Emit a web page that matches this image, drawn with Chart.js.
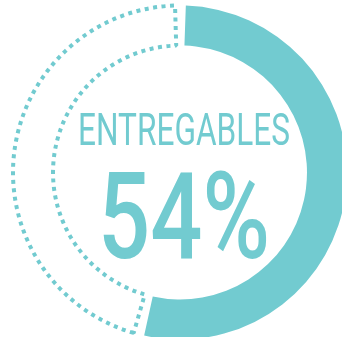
<!DOCTYPE html>
<html>
<head>
<meta charset="utf-8">
<script src="https://cdn.jsdelivr.net/npm/chart.js@4.4.1/dist/chart.umd.min.js"></script>
<style>
  html, body { margin: 0; padding: 0; background: #ffffff; overflow: hidden; }
  #wrap { position: relative; width: 342px; height: 337px; }
</style>
</head>
<body>
<div id="wrap"><canvas id="c"></canvas></div>
<script>
// ---- data ----
const categories = ['Entregables', 'Pendiente'];
const values = [54, 46];
const centerTitle = 'ENTREGABLES';
const centerValue = values[0] + '%';

const TEAL = '#72cbd0';

const centerText = {
  id: 'centerText',
  afterDraw(chart) {
    const ctx = chart.ctx;
    const meta = chart.getDatasetMeta(0);
    const arc = meta.data[0];
    const cx = arc.x + 4;
    const cy = arc.y;
    function draw(text, capH, targetW, baseline, weight) {
      ctx.save();
      let size = 100;
      ctx.font = weight + ' ' + size + 'px Roboto, "DejaVu Sans", sans-serif';
      const m = ctx.measureText('E');
      size = size * capH / m.actualBoundingBoxAscent;
      ctx.font = weight + ' ' + size + 'px Roboto, "DejaVu Sans", sans-serif';
      const w = ctx.measureText(text).width;
      const sx = targetW / w;
      ctx.fillStyle = TEAL;
      ctx.textAlign = 'center';
      ctx.textBaseline = 'alphabetic';
      ctx.translate(cx, baseline);
      ctx.scale(sx, 1);
      ctx.fillText(text, 0, 0);
      ctx.restore();
    }
    draw(centerTitle, 32, 212, cy - 27.5, '400');
    draw(centerValue, 86, 172, cy + 85.5, '500');
  }
};

new Chart(document.getElementById('c'), {
  type: 'doughnut',
  data: {
    labels: categories,
    datasets: [{
      data: values,
      backgroundColor: [TEAL, 'rgba(0,0,0,0)'],
      borderColor: [TEAL, TEAL],
      borderWidth: [0, 4],
      borderDash: (c) => c.dataIndex === 1 ? [4, 4.5] : [],
      borderAlign: 'center',
      clip: false
    }]
  },
  options: {
    responsive: true,
    maintainAspectRatio: false,
    animation: false,
    events: [],
    radius: 164,
    cutout: '75.6%',
    spacing: 6,
    layout: { padding: { left: 18, top: 8, right: 0, bottom: 0 } },
    plugins: { legend: { display: false }, tooltip: { enabled: false } }
  },
  plugins: [centerText]
});
</script>
</body>
</html>
